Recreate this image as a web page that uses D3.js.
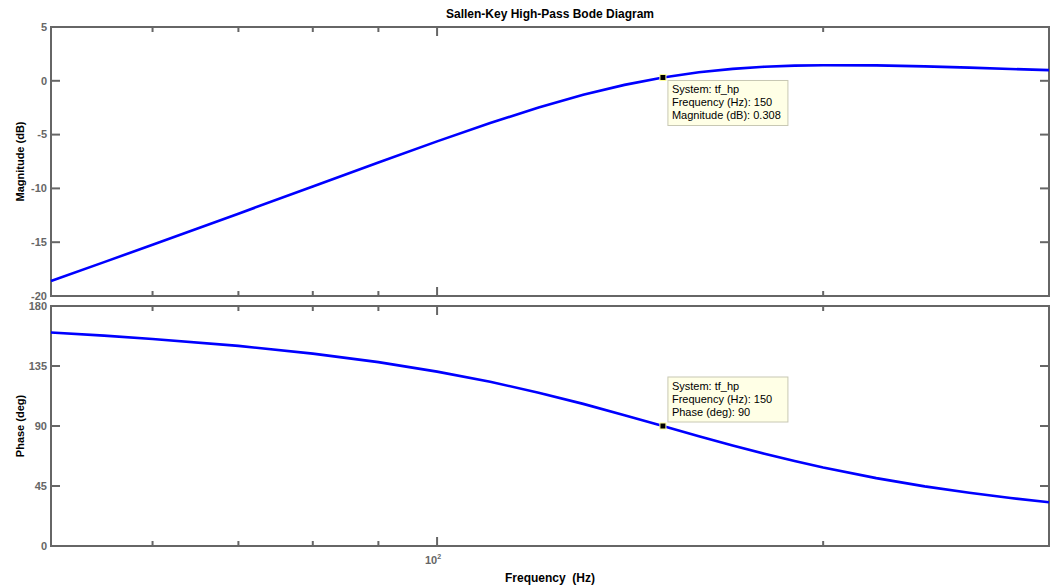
<!DOCTYPE html>
<html>
<head>
<meta charset="utf-8">
<script src="https://cdn.jsdelivr.net/npm/d3@7"></script>
<style>
  body { margin: 0; background: #fff; }
  text { font-family: "Liberation Sans", Arial, sans-serif; }
</style>
</head>
<body>
<div id="chart"></div>
<script>
// values
var freqHz = [50, 55, 60, 70, 80, 90, 100, 110, 120, 130, 140, 150, 160, 170, 180, 190, 200, 220, 240, 260, 280, 300];
var magDb = [-18.60, -16.85, -15.24, -12.35, -9.82, -7.60, -5.63, -3.93, -2.48, -1.30, -0.38, 0.31, 0.79, 1.11, 1.31, 1.41, 1.45, 1.43, 1.34, 1.22, 1.10, 0.99];
var phaseDeg = [160.1, 157.8, 155.3, 150.1, 144.3, 137.9, 130.8, 123.2, 115.0, 106.6, 98.1, 90.0, 82.4, 75.4, 69.2, 63.7, 58.9, 50.9, 44.7, 39.9, 36.0, 32.8];

var magTicks = [5, 0, -5, -10, -15, -20];
var phaseTicks = [0, 45, 90, 135, 180];
var freqMinorTicks = [60, 70, 80, 90, 200];
var freqMajorTicks = [100];

var tipFreq = 150;
var tipMag = 0.308;
var tipPhase = 90;
var magTipText = ["System: tf_hp", "Frequency (Hz): 150", "Magnitude (dB): 0.308"];
var phaseTipText = ["System: tf_hp", "Frequency (Hz): 150", "Phase (deg): 90"];

var svgWidth = 1054, svgHeight = 587;
var left = 51, right = 1049;
var magTop = 27, magBottom = 296;
var phTop = 306, phBottom = 546;
var axisGrey = "#666";

var svg = d3.select("#chart").append("svg")
  .attr("width", svgWidth)
  .attr("height", svgHeight);

var x = d3.scaleLog().domain([50, 300]).range([left, right]);
var yMag = d3.scaleLinear().domain([-20, 5]).range([magBottom, magTop]);
var yPh = d3.scaleLinear().domain([0, 180]).range([phBottom, phTop]);

function drawPanel(y, top, bottom, ticks, values, label) {
  var g = svg.append("g");

  // box
  g.append("rect")
    .attr("x", left).attr("y", top)
    .attr("width", right - left).attr("height", bottom - top)
    .attr("fill", "none").attr("stroke", axisGrey).attr("stroke-width", 2);

  // y ticks left + right, pointing inward
  ticks.forEach(function(t) {
    g.append("line").attr("x1", left).attr("x2", left + 9)
      .attr("y1", y(t)).attr("y2", y(t))
      .attr("stroke", axisGrey).attr("stroke-width", 2);
    g.append("line").attr("x1", right).attr("x2", right - 9)
      .attr("y1", y(t)).attr("y2", y(t))
      .attr("stroke", axisGrey).attr("stroke-width", 2);
    g.append("text")
      .attr("x", left - 4).attr("y", y(t))
      .attr("dy", "0.35em")
      .attr("text-anchor", "end")
      .attr("font-size", 11).attr("font-weight", "bold")
      .attr("fill", axisGrey)
      .text(t);
  });

  // x ticks top + bottom
  var xt = freqMinorTicks.map(function(f) { return {f: f, len: 5}; })
    .concat(freqMajorTicks.map(function(f) { return {f: f, len: 9}; }));
  xt.forEach(function(t) {
    g.append("line").attr("x1", x(t.f)).attr("x2", x(t.f))
      .attr("y1", top).attr("y2", top + t.len)
      .attr("stroke", axisGrey).attr("stroke-width", 2);
    g.append("line").attr("x1", x(t.f)).attr("x2", x(t.f))
      .attr("y1", bottom).attr("y2", bottom - t.len)
      .attr("stroke", axisGrey).attr("stroke-width", 2);
  });

  // curve
  var line = d3.line()
    .x(function(d, i) { return x(freqHz[i]); })
    .y(function(d) { return y(d); });
  g.append("path")
    .datum(values)
    .attr("d", line)
    .attr("fill", "none")
    .attr("stroke", "#0000ff")
    .attr("stroke-width", 2.6);

  // y label
  g.append("text")
    .attr("transform", "translate(24," + ((top + bottom) / 2) + ") rotate(-90)")
    .attr("text-anchor", "middle")
    .attr("font-size", 11).attr("font-weight", "bold")
    .text(label);
}

drawPanel(yMag, magTop, magBottom, magTicks, magDb, "Magnitude (dB)");
drawPanel(yPh, phTop, phBottom, phaseTicks, phaseDeg, "Phase (deg)");

// data tips
function dataTip(px, py, bx, by, lines) {
  var box = svg.append("g");
  box.append("rect")
    .attr("x", bx).attr("y", by)
    .attr("width", 120).attr("height", 45)
    .attr("fill", "#ffffe6").attr("stroke", "#c8c8b4").attr("stroke-width", 1);
  lines.forEach(function(s, i) {
    box.append("text")
      .attr("x", bx + 4).attr("y", by + 13 + i * 13)
      .attr("font-size", 11)
      .attr("fill", "#000")
      .text(s);
  });
  box.append("rect")
    .attr("x", px - 3).attr("y", py - 3)
    .attr("width", 6).attr("height", 6)
    .attr("fill", "#000").attr("stroke", "#ffff99").attr("stroke-width", 1);
}

dataTip(x(tipFreq), yMag(tipMag), x(tipFreq) + 5, yMag(tipMag) + 3, magTipText);
dataTip(x(tipFreq), yPh(tipPhase), x(tipFreq) + 5, yPh(tipPhase) - 49, phaseTipText);

// title
svg.append("text")
  .attr("x", (left + right) / 2).attr("y", 18)
  .attr("text-anchor", "middle")
  .attr("font-size", 12).attr("font-weight", "bold")
  .text("Sallen-Key High-Pass Bode Diagram");

// 10^2 tick label
var lab = svg.append("text")
  .attr("x", x(100) - 4).attr("y", phBottom + 18)
  .attr("text-anchor", "middle")
  .attr("font-size", 11).attr("font-weight", "bold")
  .attr("fill", axisGrey);
lab.append("tspan").text("10");
lab.append("tspan").attr("dy", -5).attr("font-size", 7).text("2");

// x label
svg.append("text")
  .attr("x", (left + right) / 2).attr("y", 582)
  .attr("text-anchor", "middle")
  .attr("font-size", 12).attr("font-weight", "bold")
  .attr("xml:space", "preserve")
  .style("white-space", "pre")
  .text("Frequency  (Hz)");
</script>
</body>
</html>
